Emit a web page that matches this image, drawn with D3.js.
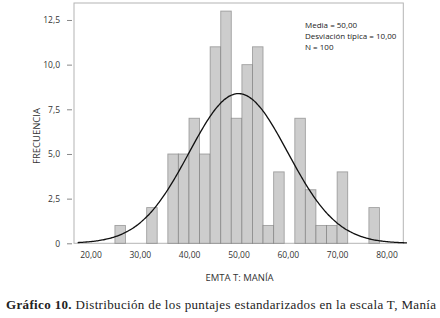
<!DOCTYPE html>
<html><head><meta charset="utf-8">
<script src="https://cdn.jsdelivr.net/npm/d3@7"></script>
<style>body{margin:0;background:#fff}svg{display:block}</style>
</head><body>
<svg id="c" width="440" height="318"></svg>
<script>
// Data
const binStart = 24.95;          // lower edge of first bin
const binWidth = 2.145;          // bin width in score units
const counts = [1,0,0,2,0,5,5,7,5,11,13,7,10,11,1,4,0,7,3,1,1,4,0,0,2];
const xTicks = [20,30,40,50,60,70,80];
const yTicks = [0,2.5,5,7.5,10,12.5];
const statsLines = ["Media = 50,00","Desviación típica = 10,00","N = 100"];
const mean = 50, sd = 10, N = 100, curveBinWidth = 2.1;
const curveRange = [17.4, 84.2];

const svg = d3.select("#c");
const L = 74, R = 403.3, T = 3, B = 243.3;
const x = d3.scaleLinear().domain([16.66, 83.41]).range([L, R]);
const y = d3.scaleLinear().domain([0, 13.45]).range([B, T]);
const fmtY = d => d === 0 ? "0" : d3.format(".1f")(d).replace(".", ",");
const fmtX = d => d3.format(".2f")(d).replace(".", ",");

// frame
svg.append("rect").attr("x", L).attr("y", T).attr("width", R - L).attr("height", B - T)
  .attr("fill", "none").attr("stroke", "#b4b4b4").attr("stroke-width", 1);

// bars
const bins = counts.map((c, i) => ({x0: binStart + i * binWidth, x1: binStart + (i + 1) * binWidth, c}));
svg.append("g").selectAll("rect").data(bins.filter(b => b.c > 0)).join("rect")
  .attr("x", d => x(d.x0)).attr("width", d => x(d.x1) - x(d.x0))
  .attr("y", d => y(d.c)).attr("height", d => y(0) - y(d.c))
  .attr("fill", "#cdcdcd").attr("stroke", "#6a6a6a").attr("stroke-opacity", 0.55).attr("stroke-width", 0.9);

// normal curve
const pts = d3.range(curveRange[0], curveRange[1] + 0.001, 0.25).map(v =>
  [v, N * curveBinWidth * Math.exp(-0.5 * ((v - mean) / sd) ** 2) / (sd * Math.sqrt(2 * Math.PI))]);
svg.append("path").datum(pts)
  .attr("d", d3.line().x(d => x(d[0])).y(d => y(d[1])).curve(d3.curveBasis))
  .attr("fill", "none").attr("stroke", "#111").attr("stroke-width", 1.3);

// y axis
const yAxis = d3.axisLeft(y).tickValues(yTicks).tickFormat(fmtY).tickSize(5).tickPadding(7);
const gy = svg.append("g").attr("transform", `translate(${L - 2},0)`).call(yAxis);
gy.select(".domain").remove();
gy.selectAll("line").attr("stroke", "#888");
gy.selectAll("text").attr("font-family", "Open Sans, sans-serif").attr("font-size", 8.5).attr("fill", "#333");

// x axis
const xAxis = d3.axisBottom(x).tickValues(xTicks).tickFormat(fmtX).tickSize(0).tickPadding(9);
const gx = svg.append("g").attr("transform", `translate(0,${B})`).call(xAxis);
gx.select(".domain").remove();
gx.selectAll("text").attr("font-family", "Open Sans, sans-serif").attr("font-size", 8.5).attr("fill", "#333");

// stats
svg.append("g").selectAll("text").data(statsLines).join("text")
  .attr("x", 305).attr("y", (d, i) => 27.5 + i * 11)
  .attr("font-family", "Open Sans, sans-serif").attr("font-size", 8).attr("fill", "#222")
  .text(d => d);

// axis titles
svg.append("text").attr("transform", "translate(40,136) rotate(-90)").attr("text-anchor", "middle")
  .attr("font-family", "Open Sans, sans-serif").attr("font-size", 9.5).attr("fill", "#333").text("FRECUENCIA");
svg.append("text").attr("x", 239.5).attr("y", 280.5).attr("text-anchor", "middle")
  .attr("font-family", "Open Sans, sans-serif").attr("font-size", 9.5).attr("fill", "#333").text("EMTA T: MANÍA");

// caption
const cap = svg.append("text").attr("x", 6).attr("y", 309)
  .attr("font-family", "Liberation Serif, serif").attr("font-size", 13).attr("fill", "#222")
  .attr("textLength", 430).attr("lengthAdjust", "spacing");
cap.append("tspan").attr("font-weight", "bold").text("Gráfico 10.");
cap.append("tspan").text(" Distribución de los puntajes estandarizados en la escala T, Manía");
</script>
</body></html>
